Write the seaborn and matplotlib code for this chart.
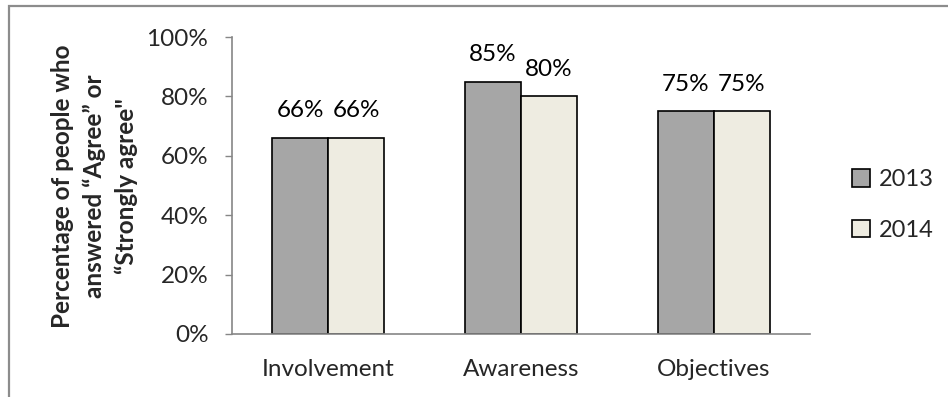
import matplotlib
matplotlib.use("Agg")
import matplotlib.pyplot as plt
from matplotlib.patches import Rectangle
import seaborn as sns
import pandas as pd

categories = ["Involvement", "Awareness", "Objectives"]
years = ["2013", "2014"]
values_2013 = [66, 85, 75]
values_2014 = [66, 80, 75]
colors = ["#A6A6A6", "#EEECE1"]
y_ticks = [0, 20, 40, 60, 80, 100]

df = pd.DataFrame({
    "category": categories * 2,
    "year": [years[0]] * 3 + [years[1]] * 3,
    "value": values_2013 + values_2014,
})

sns.set_theme(style="white")
plt.rcParams["font.family"] = ["Lato", "DejaVu Sans"]

fig = plt.figure(figsize=(9.48, 3.97), dpi=100)
ax = fig.add_axes([232 / 948, 1 - 334 / 397, 578 / 948, 297 / 397])

sns.barplot(data=df, x="category", y="value", hue="year", order=categories,
            hue_order=years, palette=colors, width=0.58, gap=0,
            edgecolor="black", linewidth=1.2, saturation=1, ax=ax, legend=False)

for container in ax.containers:
    ax.bar_label(container, labels=[f"{v:.0f}%" for v in container.datavalues],
                 padding=12, fontsize=17.5, color="black")

ax.set_ylim(0, 100)
ax.set_yticks(y_ticks)
ax.set_yticklabels([f"{t}%" for t in y_ticks], fontsize=17.5)
ax.set_xlim(-0.5, 2.5)
ax.tick_params(axis="x", labelsize=17.5, length=0, pad=18)
ax.tick_params(axis="y", length=5, width=1, color="#868686", direction="out", left=True, pad=12)
ax.set_xlabel("")
ax.set_ylabel("Percentage of people who\nanswered \u201cAgree\u201d or\n\u201cStrongly agree\"",
              fontsize=17.5, fontweight="bold", linespacing=1.45)
ax.yaxis.set_label_coords((138 - 232) / 578, (334 - 186) / 297)
for side in ["top", "right"]:
    ax.spines[side].set_visible(False)
for side in ["left", "bottom"]:
    ax.spines[side].set_color("#868686")
    ax.spines[side].set_linewidth(1.2)

handles = [Rectangle((0, 0), 1, 1, facecolor=c, edgecolor="black", linewidth=1.2) for c in colors]
fig.legend(handles, years, loc="center left", bbox_to_anchor=(843 / 948, 1 - 205 / 397),
           frameon=False, fontsize=17, handlelength=0.75, handleheight=0.75,
           handletextpad=0.35, labelspacing=1.25, borderaxespad=0)

# chart frame
fig.add_artist(Rectangle((8.5 / 948, -0.1), 1.2, 1 - 6.5 / 397 + 0.1, transform=fig.transFigure,
                         fill=False, edgecolor="#8C8C8C", linewidth=1.6))

fig.savefig("out.png", dpi=100)
